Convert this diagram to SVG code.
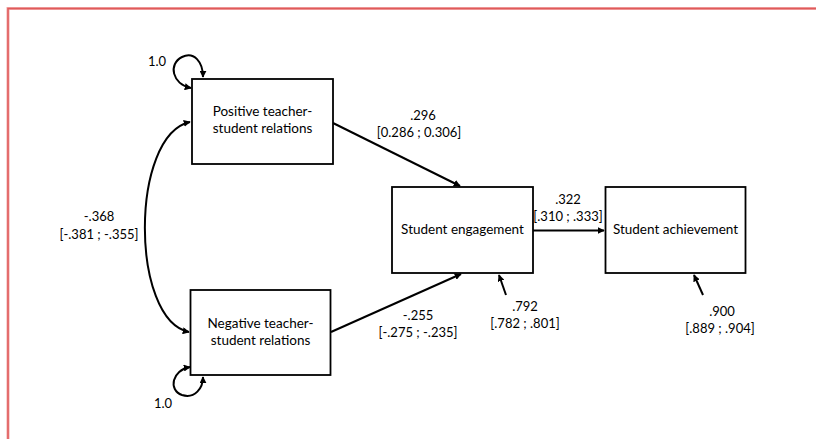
<svg xmlns="http://www.w3.org/2000/svg" width="816" height="439" viewBox="0 0 816 439">
  <defs>
    <marker id="arrow" viewBox="0 0 10 10" refX="9" refY="5" markerWidth="7" markerHeight="7" markerUnits="userSpaceOnUse" orient="auto-start-reverse">
      <path d="M0,0 L10,5 L0,10 z" fill="#000"/>
    </marker>
    <style>
      .box { fill: #fff; stroke: #000; stroke-width: 1.8; }
      .lbl { font-family: Lato, "Liberation Sans", sans-serif; font-size: 13.5px; fill: #000; text-anchor: middle; }
      .num { font-family: Lato, "Liberation Sans", sans-serif; font-size: 13px; fill: #000; text-anchor: middle; }
      .edge { fill: none; stroke: #000; stroke-width: 2; }
    </style>
  </defs>

  <rect width="816" height="439" fill="#fff"/>
  <!-- page frame -->
  <rect x="8" y="8.5" width="820" height="440" fill="none" stroke="#f2a9a9" stroke-width="3"/>
  <rect x="8" y="8.5" width="820" height="440" fill="none" stroke="#df5a5a" stroke-width="1.5"/>

  <g id="connectors">
    <!-- variance loops -->
    <path class="edge" d="M191,88 C172,84 168,64 182,57 C194,51 203,62 203,77" marker-start="url(#arrow)" marker-end="url(#arrow)"/>
    <path class="edge" d="M190,367 C172,370 168,390 182,395 C195,399 203,388 203,377" marker-start="url(#arrow)" marker-end="url(#arrow)"/>
    <!-- covariance -->
    <path class="edge" d="M190,122 C130,135 130,320 189,332" marker-start="url(#arrow)" marker-end="url(#arrow)"/>
    <!-- paths -->
    <line class="edge" x1="333" y1="123" x2="460" y2="186" marker-end="url(#arrow)"/>
    <line class="edge" x1="331" y1="332" x2="461" y2="274" marker-end="url(#arrow)"/>
    <line class="edge" x1="533" y1="230.5" x2="604" y2="230.5" marker-end="url(#arrow)"/>
    <!-- residuals -->
    <line class="edge" x1="506" y1="295" x2="499" y2="275" marker-end="url(#arrow)"/>
    <line class="edge" x1="703" y1="295" x2="694" y2="275" marker-end="url(#arrow)"/>
  </g>

  <g id="positive">
    <rect class="box" x="192" y="79" width="141" height="85"/>
    <text class="lbl" x="262.5" y="116">Positive teacher-</text>
    <text class="lbl" x="262.5" y="133">student relations</text>
  </g>
  <g id="negative">
    <rect class="box" x="190.5" y="290" width="140" height="85"/>
    <text class="lbl" x="260.5" y="328">Negative teacher-</text>
    <text class="lbl" x="260.5" y="345">student relations</text>
  </g>
  <g id="engagement">
    <rect class="box" x="392" y="187" width="141" height="86"/>
    <text class="lbl" x="462.5" y="234">Student engagement</text>
  </g>
  <g id="achievement">
    <rect class="box" x="605.5" y="187" width="140" height="86"/>
    <text class="lbl" x="675.5" y="234">Student achievement</text>
  </g>

  <g id="labels">
    <text class="num" x="157" y="66">1.0</text>
    <text class="num" x="163" y="408">1.0</text>
    <text class="num" x="99" y="221">-.368</text>
    <text class="num" x="99" y="239">[-.381 ; -.355]</text>
    <text class="num" x="423" y="120">.296</text>
    <text class="num" x="419" y="137">[0.286 ; 0.306]</text>
    <text class="num" x="418" y="320">-.255</text>
    <text class="num" x="418" y="337">[-.275 ; -.235]</text>
    <text class="num" x="525" y="311">.792</text>
    <text class="num" x="525" y="328">[.782 ; .801]</text>
    <text class="num" x="568" y="204">.322</text>
    <text class="num" x="568" y="221">[.310 ; .333]</text>
    <text class="num" x="722" y="316">.900</text>
    <text class="num" x="720" y="333">[.889 ; .904]</text>
  </g>
</svg>
